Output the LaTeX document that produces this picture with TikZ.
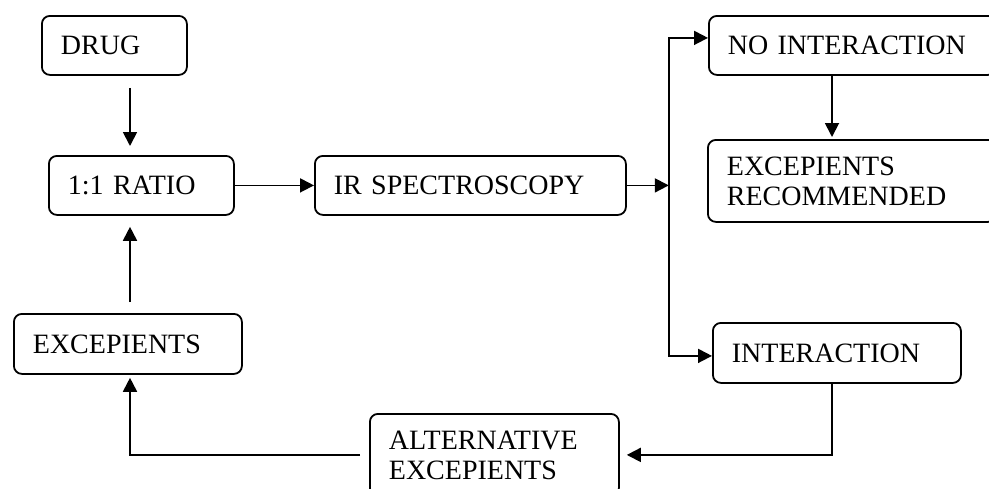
\documentclass[tikz,border=0pt]{standalone}
\usepackage{fontspec}
\setmainfont{Liberation Serif}
\usepackage{tikz}
\usetikzlibrary{positioning,calc,arrows.meta}

\begin{document}
\begin{tikzpicture}[x=0.5pt, y=-0.5pt,
    box/.style={draw, rounded corners=4pt, line width=0.9pt, anchor=north west,
        align=left, inner xsep=9.5pt, inner ysep=0pt, font=\fontsize{14}{15}\selectfont},
    arr/.style={-{Triangle[length=7pt,width=7pt]}, line width=0.9pt}]
    \clip (0,0) rectangle (989,488);

    % Boxes
    \node [box, text width=53.5pt, minimum height=29.5pt] (drug) at (41,15) {DRUG};
    \node [box, text width=73.5pt, minimum height=29.5pt] (ratio) at (48,155) {1:1 RATIO};
    \node [box, text width=136.5pt, minimum height=29.5pt] (ir) at (314,155) {IR SPECTROSCOPY};
    \node [box, text width=124.5pt, minimum height=29.5pt] (noint) at (708,15) {NO INTERACTION};
    \node [box, text width=125pt, minimum height=41pt] (excrec) at (707,139) {EXCEPIENTS\\RECOMMENDED};
    \node [box, text width=95pt, minimum height=30pt] (excip) at (13,313) {EXCEPIENTS};
    \node [box, text width=105pt, minimum height=30pt] (inter) at (712,322) {INTERACTION};
    \node [box, text width=105.5pt, minimum height=41pt] (alt) at (369,413) {ALTERNATIVE\\EXCEPIENTS};

    \coordinate (lx) at (130,0);
    \coordinate (rx) at (832,0);
    \coordinate (split) at ($(ir.east)+(42,0)$);

    % Arrows
    \draw [arr, shorten <=6pt, shorten >=4.5pt] (drug.south -| lx) -- (ratio.north -| lx);
    \draw [arr] (ratio.east) -- (ir.west);
    \draw [arr] (ir.east) -- (split);
    \draw [arr] (split) |- ([yshift=3.75pt]noint.west);
    \draw [arr] (split) |- ([yshift=-1.5pt]inter.west);
    \draw [arr, shorten >=1pt] (noint.south -| rx) -- (excrec.north -| rx);
    \draw [arr, shorten >=3.5pt] (inter.south -| rx) |- (alt.east);
    \draw [arr, shorten <=4.5pt, shorten >=1.5pt] (alt.west) -| (excip.south -| lx);
    \draw [arr, shorten <=5.5pt, shorten >=5.5pt] (excip.north -| lx) -- (ratio.south -| lx);
\end{tikzpicture}
\end{document}
